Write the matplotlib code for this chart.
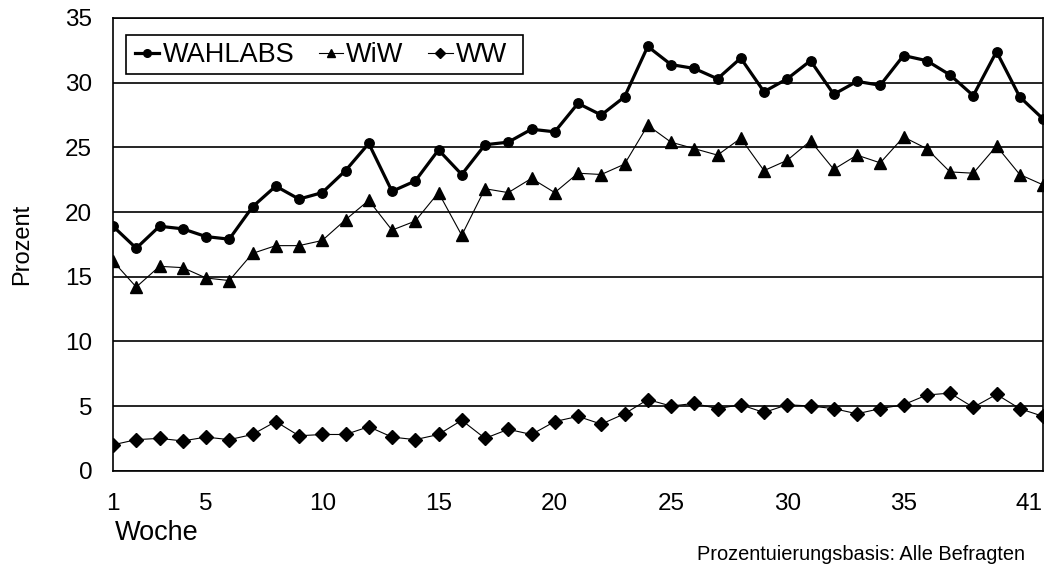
import numpy as np
import matplotlib.pyplot as plt
from matplotlib.patches import Rectangle

plt.rcParams['font.family'] = ['Liberation Sans', 'DejaVu Sans']

weeks = np.arange(1, 42)
wahlabs = [18.9, 17.2, 18.9, 18.7, 18.1, 17.9, 20.4, 22.0, 21.0, 21.5,
           23.2, 25.3, 21.6, 22.4, 24.8, 22.9, 25.2, 25.4, 26.4, 26.2,
           28.4, 27.5, 28.9, 32.8, 31.4, 31.1, 30.3, 31.9, 29.3, 30.3,
           31.7, 29.1, 30.1, 29.8, 32.1, 31.7, 30.6, 29.0, 32.4, 28.9, 27.2]
wiw = [16.2, 14.2, 15.8, 15.7, 14.9, 14.7, 16.8, 17.4, 17.4, 17.8,
       19.4, 20.9, 18.6, 19.3, 21.5, 18.2, 21.8, 21.5, 22.6, 21.5,
       23.0, 22.9, 23.7, 26.7, 25.4, 24.9, 24.4, 25.7, 23.2, 24.0,
       25.5, 23.3, 24.4, 23.8, 25.8, 24.9, 23.1, 23.0, 25.1, 22.9, 22.1]
ww = [2.0, 2.4, 2.5, 2.3, 2.6, 2.4, 2.8, 3.8, 2.7, 2.8,
      2.8, 3.4, 2.6, 2.4, 2.8, 3.9, 2.5, 3.2, 2.8, 3.8,
      4.2, 3.6, 4.4, 5.5, 5.0, 5.2, 4.8, 5.1, 4.5, 5.1,
      5.0, 4.8, 4.4, 4.8, 5.1, 5.85, 6.0, 4.9, 5.9, 4.8, 4.2]
x_tick_values = [1, 5, 10, 15, 20, 25, 30, 35, 41]
y_tick_values = [0, 5, 10, 15, 20, 25, 30, 35]

figure = plt.figure(figsize=(10.59, 5.70), dpi=100)
axis = figure.add_axes([113 / 1059, 1 - 470.7 / 570, 930 / 1059, 452.7 / 570])

axis.plot(weeks, wahlabs, color="black", linewidth=2.3, marker="o",
          markersize=6.8, label="WAHLABS", zorder=5)
axis.plot(weeks, wiw, color="black", linewidth=0.8, marker="^",
          markersize=8, label="WiW", zorder=4)
axis.plot(weeks, ww, color="black", linewidth=0.8, marker="D",
          markersize=7, label="WW", zorder=4)

axis.set_xlim(1, 41)
axis.set_ylim(0, 35)
axis.set_xticks(x_tick_values)
axis.set_yticks(y_tick_values)
axis.tick_params(axis="both", length=0, labelsize=17.5)
axis.tick_params(axis="y", pad=15)
axis.tick_params(axis="x", pad=16)
axis.get_xticklabels()[-1].set_horizontalalignment("right")
axis.grid(axis="y", color="black", linewidth=1.2)
axis.set_axisbelow(True)
for spine in axis.spines.values():
    spine.set_linewidth(1.2)
    spine.set_color("black")

axis.set_ylabel("Prozent", fontsize=17, labelpad=23)

# legend frame drawn separately, Excel leaves extra room on the right
axis.add_patch(Rectangle((0.014, 0.877), 0.427, 0.085, transform=axis.transAxes,
                         facecolor="white", edgecolor="black", linewidth=1.2,
                         zorder=6))
legend = axis.legend(loc="center left", ncol=3, fontsize=19.5, frameon=False,
                     handlelength=0.9, handletextpad=0.12, columnspacing=0.9,
                     borderpad=0, borderaxespad=0,
                     bbox_to_anchor=(22 / 930, 1 - 37.5 / 452.7))
legend.set_zorder(7)
for handle in legend.legend_handles:
    handle.set_markersize(5.5)

figure.text(115 / 1059, 1 - 533 / 570, "Woche", fontsize=19.5, va="center", ha="left")
figure.text(1025 / 1059, 1 - 555 / 570, "Prozentuierungsbasis: Alle Befragten",
            fontsize=14.4, va="center", ha="right")

figure.savefig("out.png", dpi=100)
